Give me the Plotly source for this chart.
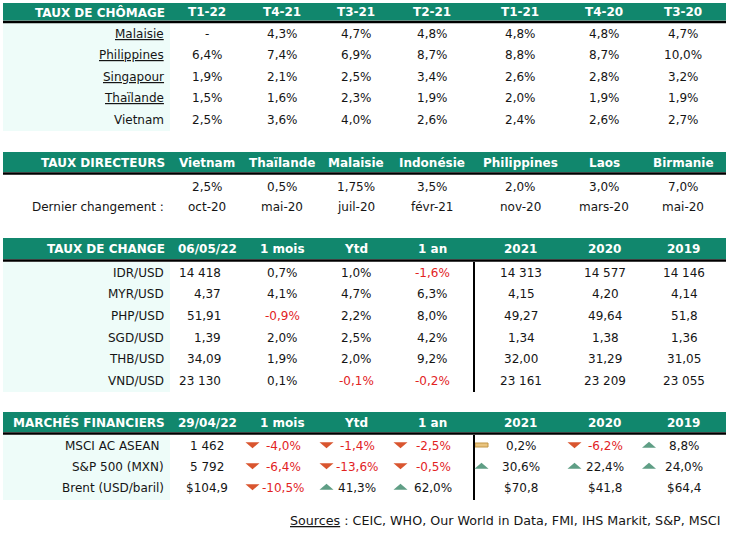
import plotly.graph_objects as go

# ---------------- DATA ----------------
CHOMAGE_PERIODS = ["T1-22", "T4-21", "T3-21", "T2-21", "T1-21", "T4-20", "T3-20"]
CHOMAGE_COUNTRIES = ["Malaisie", "Philippines", "Singapour", "Thaïlande", "Vietnam"]
CHOMAGE_LINKED = [True, True, True, True, False]
CHOMAGE_MALAISIE = [None, 4.3, 4.7, 4.8, 4.8, 4.8, 4.7]
CHOMAGE_PHILIPPINES = [6.4, 7.4, 6.9, 8.7, 8.8, 8.7, 10.0]
CHOMAGE_SINGAPOUR = [1.9, 2.1, 2.5, 3.4, 2.6, 2.8, 3.2]
CHOMAGE_THAILANDE = [1.5, 1.6, 2.3, 1.9, 2.0, 1.9, 1.9]
CHOMAGE_VIETNAM = [2.5, 3.6, 4.0, 2.6, 2.4, 2.6, 2.7]

DIRECTEURS_COUNTRIES = ["Vietnam", "Thaïlande", "Malaisie", "Indonésie", "Philippines", "Laos", "Birmanie"]
DIRECTEURS_RATES = ["2,5%", "0,5%", "1,75%", "3,5%", "2,0%", "3,0%", "7,0%"]
DIRECTEURS_CHANGES = ["oct-20", "mai-20", "juil-20", "févr-21", "nov-20", "mars-20", "mai-20"]

CHANGE_COLS = ["06/05/22", "1 mois", "Ytd", "1 an", "2021", "2020", "2019"]
CHANGE_PAIRS = ["IDR/USD", "MYR/USD", "PHP/USD", "SGD/USD", "THB/USD", "VND/USD"]
CHANGE_SPOT = ["14 418", "4,37", "51,91", "1,39", "34,09", "23 130"]
CHANGE_1M = [0.7, 4.1, -0.9, 2.0, 1.9, 0.1]
CHANGE_YTD = [1.0, 4.7, 2.2, 2.5, 2.0, -0.1]
CHANGE_1Y = [-1.6, 6.3, 8.0, 4.2, 9.2, -0.2]
CHANGE_2021 = ["14 313", "4,15", "49,27", "1,34", "32,00", "23 161"]
CHANGE_2020 = ["14 577", "4,20", "49,64", "1,38", "31,29", "23 209"]
CHANGE_2019 = ["14 146", "4,14", "51,8", "1,36", "31,05", "23 055"]

MARCHES_COLS = ["29/04/22", "1 mois", "Ytd", "1 an", "2021", "2020", "2019"]
MARCHES_NAMES = ["MSCI AC ASEAN", "S&P 500 (MXN)", "Brent (USD/baril)"]
MARCHES_LEVEL = ["1 462", "5 792", "$104,9"]
MARCHES_1M = [-4.0, -6.4, -10.5]
MARCHES_YTD = [-1.4, -13.6, 41.3]
MARCHES_1Y = [-2.5, -0.5, 62.0]
MARCHES_2021 = [0.2, 30.6, "$70,8"]
MARCHES_2020 = [-6.2, 22.4, "$41,8"]
MARCHES_2019 = [8.8, 24.0, "$64,4"]

SOURCES = "Sources"
SOURCES_LIST = " : CEIC, WHO, Our World in Data, FMI, IHS Markit, S&P, MSCI"

# ---------------- STYLE / LAYOUT ----------------
W, H = 731, 539
GREEN = "#11876D"
CYAN = "#EEFCF9"
RED = "#E2231F"
TXT = "#151515"
DOWN = "#D9552F"
UP = "#5F9E85"
FLAT = "#E9C47F"
FLAT_EDGE = "#C29646"
FONT = "DejaVu Sans, Verdana, sans-serif"
FS = 12

LEFT, RIGHT = 3, 726
LABEL_X = 166
COL_X = [207, 282, 356, 432, 520, 604, 683]
ICON_X = [None, 252.5, 326.5, 400.5, 481.5, 574.5, 649]
LABEL_SHIFT = [-4, 0, 0]
CYAN_X1 = 170
VLINE_X = 474

fig = go.Figure()
shapes = []
anns = []


def text(x, y, t, anchor="center", color=TXT, bold=False, size=FS):
    anns.append(dict(
        x=x, y=y, xref="x", yref="y", text=(f"<b>{t}</b>" if bold else t),
        showarrow=False, xanchor=anchor, yanchor="middle",
        font=dict(family=FONT, size=size, color=color),
    ))


def rect(x0, y0, x1, y1, color, line=None):
    shapes.append(dict(type="rect", xref="x", yref="y", x0=x0, y0=y0, x1=x1, y1=y1,
                       fillcolor=color, line=dict(width=1 if line else 0, color=line or color),
                       layer="below"))


def hline(x0, x1, y, width=2.5):
    shapes.append(dict(type="line", xref="x", yref="y", x0=x0, x1=x1, y0=y, y1=y,
                       line=dict(color="black", width=width)))


def vline(x, y0, y1, width=2):
    shapes.append(dict(type="line", xref="x", yref="y", x0=x, x1=x, y0=y0, y1=y1,
                       line=dict(color="black", width=width)))


def header(y_top, y_bot, title, cols):
    rect(LEFT, y_top, RIGHT, y_bot, GREEN)
    hline(LEFT, RIGHT, y_bot + 1.5)
    yc = (y_top + y_bot) / 2 + 0.5
    text(LABEL_X + 1, yc, title, anchor="right", color="white", bold=True)
    for cx, c in zip(COL_X, cols):
        text(cx, yc, c, color="white", bold=True)


def pct(v):
    return "-" if v is None else f"{v:.1f}%".replace(".", ",")


def icon(x, y, v):
    if abs(v) < 0.5:
        rect(x - 6.5, y - 2, x + 6.5, y + 2, FLAT, FLAT_EDGE)
        return
    if v < 0:
        path = f"M {x-7},{y-2.8} L {x+7},{y-2.8} L {x},{y+3.2} Z"
        col = DOWN
    else:
        path = f"M {x-7},{y+2.8} L {x+7},{y+2.8} L {x},{y-3.2} Z"
        col = UP
    shapes.append(dict(type="path", xref="x", yref="y", path=path,
                       fillcolor=col, line=dict(width=0)))


# ----- Section 1 : Taux de chômage -----
header(3, 20.5, "TAUX DE CHÔMAGE", CHOMAGE_PERIODS)
rows1 = [CHOMAGE_MALAISIE, CHOMAGE_PHILIPPINES, CHOMAGE_SINGAPOUR, CHOMAGE_THAILANDE, CHOMAGE_VIETNAM]
rect(LEFT, 23, CYAN_X1, 131, CYAN)
for i, (name, linked, vals) in enumerate(zip(CHOMAGE_COUNTRIES, CHOMAGE_LINKED, rows1)):
    y = 33.5 + 21.6 * i
    text(LABEL_X, y, f"<u>{name}</u>" if linked else name, anchor="right")
    for cx, v in zip(COL_X, vals):
        text(cx, y, pct(v))

# ----- Section 2 : Taux directeurs -----
header(152, 172, "TAUX DIRECTEURS", DIRECTEURS_COUNTRIES)
for cx, r, c in zip(COL_X, DIRECTEURS_RATES, DIRECTEURS_CHANGES):
    text(cx, 186.5, r)
    text(cx, 207, c)
text(LABEL_X, 207, "Dernier changement :", anchor="right")

# ----- Section 3 : Taux de change -----
header(238, 259, "TAUX DE CHANGE", CHANGE_COLS)
rect(LEFT, 262, CYAN_X1, 392, CYAN)
vline(VLINE_X, 262, 392)
for i, pair in enumerate(CHANGE_PAIRS):
    y = 272.5 + 21.7 * i
    text(LABEL_X, y, pair, anchor="right")
    text(223, y, CHANGE_SPOT[i], anchor="right")
    for cx, v in zip(COL_X[1:4], (CHANGE_1M[i], CHANGE_YTD[i], CHANGE_1Y[i])):
        text(cx, y, pct(v), color=RED if v < 0 else TXT)
    for cx, v in zip(COL_X[4:], (CHANGE_2021[i], CHANGE_2020[i], CHANGE_2019[i])):
        text(cx + 1, y, v)

# ----- Section 4 : Marchés financiers -----
header(412, 432, "MARCHÉS FINANCIERS", MARCHES_COLS)
rect(LEFT, 435, CYAN_X1, 500, CYAN)
vline(VLINE_X, 435, 500)
for i, name in enumerate(MARCHES_NAMES):
    y = 446 + 21 * i
    text(LABEL_X + LABEL_SHIFT[i], y, name, anchor="right")
    text(COL_X[0], y, MARCHES_LEVEL[i])
    vals = [MARCHES_1M[i], MARCHES_YTD[i], MARCHES_1Y[i], MARCHES_2021[i], MARCHES_2020[i], MARCHES_2019[i]]
    for k, v in enumerate(vals, start=1):
        cx = COL_X[k]
        if isinstance(v, str):
            text(cx + 1, y, v)
        else:
            icon(ICON_X[k], y - 1, v)
            text(cx + 1, y, pct(v), color=RED if v < 0 else TXT)

# ----- Sources -----
text(722, 520, f"<u>{SOURCES}</u>{SOURCES_LIST}", anchor="right", size=12.7)

fig.update_layout(
    width=W, height=H, autosize=False,
    margin=dict(l=0, r=0, t=0, b=0),
    paper_bgcolor="white", plot_bgcolor="white",
    xaxis=dict(range=[0, W], visible=False, fixedrange=True),
    yaxis=dict(range=[H, 0], visible=False, fixedrange=True),
    shapes=shapes, annotations=anns, showlegend=False,
)
fig.write_html(
    "out.html",
    config={"displayModeBar": False},
    post_script="document.body.style.margin='0';document.body.style.overflow='hidden';",
)
